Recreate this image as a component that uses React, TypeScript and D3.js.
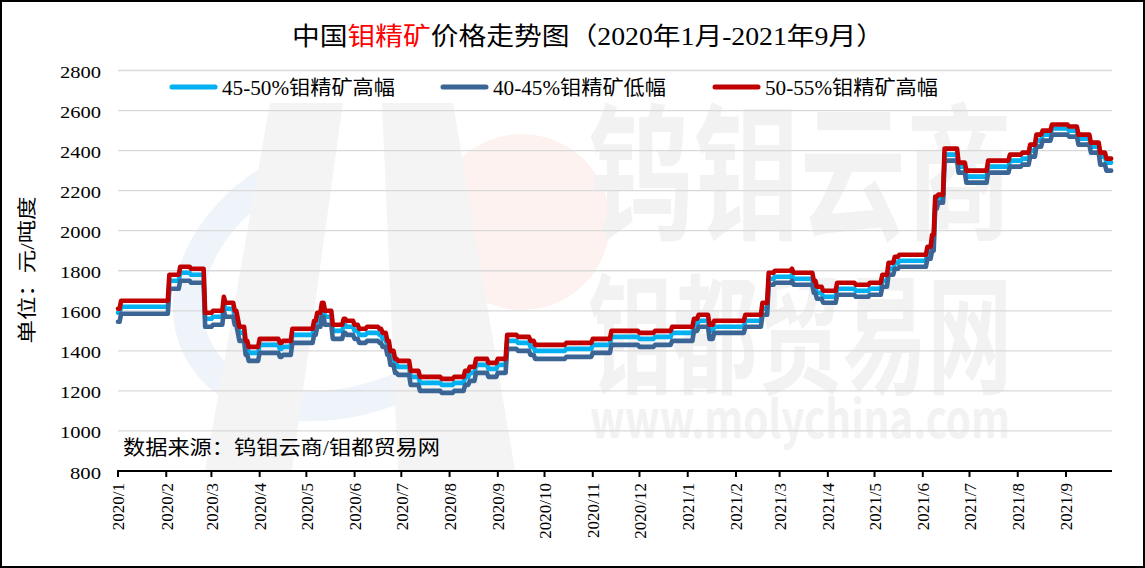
import React from 'react';
import * as d3 from 'd3';

const W = 1145;
const H = 568;

// change dates (value holds from this date on)
const dates = [
  '2020-01-01','2020-01-03','2020-02-03','2020-02-10','2020-02-17','2020-02-26','2020-03-02','2020-03-09','2020-03-10','2020-03-16',
  '2020-03-18','2020-03-19','2020-03-23','2020-03-25','2020-04-01','2020-04-14','2020-04-16','2020-04-22','2020-05-06','2020-05-08',
  '2020-05-11','2020-05-13','2020-05-18','2020-05-25','2020-05-27','2020-06-01','2020-06-04','2020-06-09','2020-06-17','2020-06-19',
  '2020-06-22','2020-06-24','2020-06-27','2020-06-29','2020-07-07','2020-07-13','2020-07-27','2020-08-04','2020-08-11','2020-08-14',
  '2020-08-18','2020-08-26','2020-09-01','2020-09-07','2020-09-14','2020-09-22','2020-09-25','2020-10-15','2020-11-01','2020-11-13',
  '2020-12-01','2020-12-11','2020-12-22','2021-01-05','2021-01-08','2021-01-15','2021-01-18','2021-02-07','2021-02-18','2021-02-22',
  '2021-02-26','2021-03-09','2021-03-10','2021-03-23','2021-03-25','2021-03-29','2021-04-07','2021-04-19','2021-04-28','2021-05-06',
  '2021-05-10','2021-05-14','2021-05-17','2021-06-04','2021-06-07','2021-06-09','2021-06-11','2021-06-15','2021-06-24','2021-06-29',
  '2021-07-13','2021-07-27','2021-08-04','2021-08-09','2021-08-13','2021-08-17','2021-08-23','2021-09-03','2021-09-09','2021-09-17',
  '2021-09-23','2021-09-27','2021-09-30',
];

// 50-55% 钼精矿高幅
const high5055 = [
  1610,1650,1780,1820,1810,1590,1600,1670,1640,1600,
  1560,1520,1450,1420,1460,1440,1450,1510,1550,1590,
  1640,1600,1530,1560,1550,1530,1510,1520,1510,1490,
  1450,1400,1360,1350,1300,1270,1260,1270,1300,1320,
  1360,1340,1360,1480,1470,1450,1430,1440,1460,1500,
  1490,1500,1520,1560,1580,1530,1550,1580,1640,1790,
  1800,1810,1790,1750,1720,1700,1740,1730,1740,1780,
  1840,1870,1880,1920,1980,2170,2180,2410,2340,2300,
  2350,2380,2390,2430,2480,2500,2530,2520,2480,2440,
  2390,2360,2360,
];

// 45-50% 钼精矿高幅
const high4550 = [
  1590,1620,1750,1790,1780,1560,1570,1640,1610,1570,
  1530,1490,1420,1390,1430,1410,1420,1480,1520,1560,
  1610,1570,1500,1530,1520,1500,1480,1490,1480,1460,
  1420,1370,1330,1320,1270,1240,1230,1240,1270,1290,
  1330,1310,1330,1450,1440,1420,1400,1410,1430,1470,
  1460,1470,1490,1530,1550,1500,1520,1550,1610,1760,
  1770,1780,1760,1720,1690,1670,1710,1700,1710,1750,
  1810,1840,1850,1890,1950,2140,2160,2380,2320,2270,
  2320,2350,2360,2400,2450,2480,2510,2500,2460,2420,
  2370,2340,2340,
];

// 40-45% 钼精矿低幅
const low4045 = [
  1545,1585,1710,1750,1740,1520,1530,1600,1570,1530,
  1490,1450,1380,1350,1390,1370,1380,1440,1480,1520,
  1570,1530,1460,1490,1480,1460,1440,1450,1440,1420,
  1380,1330,1290,1280,1230,1200,1190,1200,1230,1250,
  1290,1270,1290,1410,1400,1380,1360,1370,1390,1430,
  1420,1430,1450,1500,1520,1460,1490,1520,1580,1730,
  1740,1750,1730,1690,1660,1640,1680,1670,1680,1720,
  1780,1810,1820,1860,1900,2110,2140,2350,2290,2240,
  2290,2320,2330,2370,2420,2450,2480,2470,2430,2390,
  2330,2300,2300,
];

const yTicks = [800, 1000, 1200, 1400, 1600, 1800, 2000, 2200, 2400, 2600, 2800];
const seriesNames = ['45-50%钼精矿高幅', '40-45%钼精矿低幅', '50-55%钼精矿高幅'];
const seriesColors = ['#00B0F0', '#3A6595', '#C00000'];

const SERIF = '"Liberation Serif", "DejaVu Serif", "Noto Sans CJK SC", serif';
const CJK = '"Noto Sans CJK SC", "Noto Sans", sans-serif';

export default function App() {
  const parse = d3.timeParse('%Y-%m-%d');
  const parsed = dates.map((d) => parse(d) as Date);

  const x = d3
    .scaleTime()
    .domain([new Date(2020, 0, 1), new Date(2021, 9, 1)])
    .range([118, 1112.7]);
  const y = d3.scaleLinear().domain([800, 2800]).range([471, 70.5]);

  const monthTicks = d3.timeMonth.range(new Date(2020, 0, 1), new Date(2021, 8, 2));
  const fmt = d3.timeFormat('%Y/%-m');

  const expand = (vals: number[]) => {
    const pts: [Date, number][] = [];
    for (let i = 0; i < parsed.length; i++) {
      pts.push([parsed[i], vals[i]]);
      if (i < parsed.length - 1) {
        const prevDay = d3.timeDay.offset(parsed[i + 1], -1);
        if (prevDay > parsed[i]) pts.push([prevDay, vals[i]]);
      }
    }
    return pts;
  };

  const line = d3
    .line<[Date, number]>()
    .x((d) => x(d[0]))
    .y((d) => y(d[1]))
    .curve(d3.curveLinear);

  const seriesData = [high4550, low4045, high5055];

  const legendX = [172, 443, 715];
  const legendY = 87;

  const wm = '#F2F2F2';

  return (
    <svg
      width={W}
      height={H}
      style={{ position: 'absolute', left: 0, top: 0, background: '#fff' }}
    >
      <rect x={0} y={0} width={W} height={H} fill="#fff" />

      {/* watermark logo */}
      <g>
        <circle cx={522} cy={222} r={88} fill="#FDF2EF" />
        <path
          d="M300,165 C190,210 150,330 230,385 C300,430 420,400 480,330"
          fill="none"
          stroke="#EFF4FA"
          strokeWidth={30}
        />
        <polygon points="270,103 343,103 292,470 205,470" fill="#F4F4F4" />
        <polygon points="382,103 453,103 515,470 398,470" fill="#F4F4F4" />
      </g>

      {/* watermark text */}
      <g>
        <text
          x={588}
          y={228}
          fontFamily={CJK}
          fontWeight={700}
          fontSize={148}
          fill={wm}
          textLength={424}
          lengthAdjust="spacingAndGlyphs"
        >
          钨钼云商
        </text>
        <text
          x={588}
          y={383}
          fontFamily={CJK}
          fontWeight={700}
          fontSize={130}
          fill={wm}
          textLength={424}
          lengthAdjust="spacingAndGlyphs"
        >
          钼都贸易网
        </text>
        <text
          x={590}
          y={438}
          fontFamily={CJK}
          fontWeight={700}
          fontSize={52}
          fill={wm}
          textLength={420}
          lengthAdjust="spacingAndGlyphs"
        >
          www.molychina.com
        </text>
      </g>

      {/* grid */}
      {yTicks.slice(1).map((t) => (
        <line key={t} x1={118} x2={1112} y1={y(t)} y2={y(t)} stroke="#D9D9D9" strokeWidth={1.3} />
      ))}

      {/* y labels */}
      {yTicks.map((t) => (
        <text
          key={t}
          x={101}
          y={y(t) + 7.5}
          textAnchor="end"
          fontFamily={SERIF}
          fontSize={17}
          textLength={t >= 1000 ? 41 : 31}
          lengthAdjust="spacingAndGlyphs"
          fill="#000"
        >
          {t}
        </text>
      ))}

      {/* x axis */}
      <line x1={117} x2={1112} y1={471} y2={471} stroke="#000" strokeWidth={2} />
      {monthTicks.map((m) => (
        <g key={m.toISOString()}>
          <line x1={x(m)} x2={x(m)} y1={471} y2={477} stroke="#000" strokeWidth={2} />
          <text
            transform={`translate(${x(m) + 0.5},483) rotate(-90)`}
            textAnchor="end"
            dy="0.35em"
            fontFamily={SERIF}
            fontSize={17}
            fill="#000"
          >
            {fmt(m)}
          </text>
        </g>
      ))}

      {/* series */}
      {seriesData.map((vals, i) => (
        <path
          key={i}
          d={line(expand(vals)) || ''}
          fill="none"
          stroke={seriesColors[i]}
          strokeWidth={4.6}
          strokeLinejoin="round"
          strokeLinecap="round"
        />
      ))}

      {/* legend */}
      {seriesNames.map((n, i) => (
        <g key={n}>
          <line
            x1={legendX[i]}
            x2={legendX[i] + 43}
            y1={legendY}
            y2={legendY}
            stroke={seriesColors[i]}
            strokeWidth={5}
            strokeLinecap="round"
          />
          <text
            x={legendX[i] + 50}
            y={legendY + 8}
            fontFamily={SERIF}
            fontSize={20}
            textLength={173}
            lengthAdjust="spacingAndGlyphs"
            fill="#000"
          >
            {n}
          </text>
        </g>
      ))}

      {/* source */}
      <text
        x={123}
        y={455}
        fontFamily={SERIF}
        fontSize={20}
        textLength={317}
        lengthAdjust="spacingAndGlyphs"
        fill="#000"
      >
        数据来源：钨钼云商/钼都贸易网
      </text>

      {/* y axis title */}
      <text
        transform="translate(34,270) rotate(-90)"
        textAnchor="middle"
        fontFamily={SERIF}
        fontSize={19}
        textLength={147}
        lengthAdjust="spacingAndGlyphs"
        fill="#000"
      >
        单位：元/吨度
      </text>

      {/* title */}
      <text
        x={292}
        y={45}
        fontFamily={SERIF}
        fontSize={25}
        textLength={592}
        lengthAdjust="spacingAndGlyphs"
        fill="#000"
      >
        中国<tspan fill="#FF0000">钼精矿</tspan>价格走势图（2020年1月-2021年9月）
      </text>

      {/* border */}
      <rect x={1} y={1} width={W - 2} height={H - 2} fill="none" stroke="#000" strokeWidth={2} />
    </svg>
  );
}
